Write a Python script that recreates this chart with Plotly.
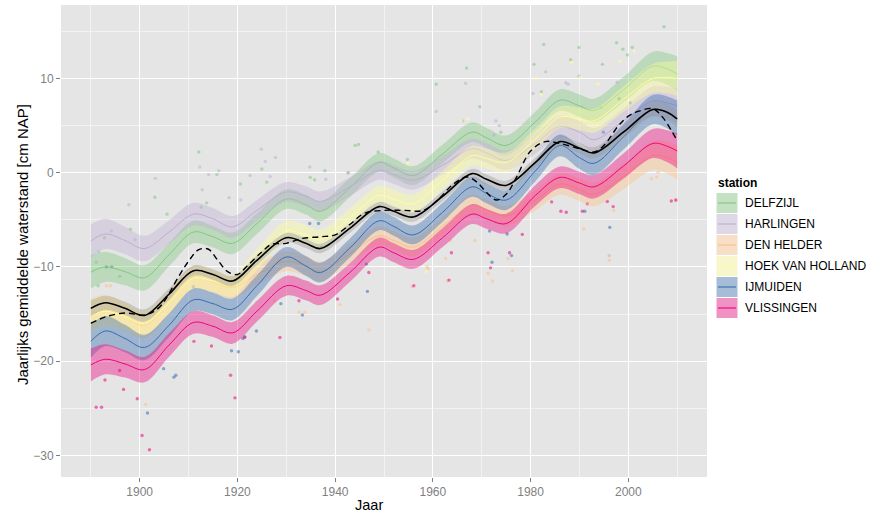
import plotly.graph_objects as go

# ---- smoothed yearly mean sea level per station (cm NAP) at key years ----
years = [1890, 1893, 1897, 1901, 1906, 1911, 1915, 1919, 1924, 1930, 1934, 1937, 1943, 1949,
         1952, 1956, 1962, 1968, 1971, 1975, 1981, 1986, 1990, 1993, 1999, 2005, 2008, 2010]

delfzijl = [-10.55, -10.0, -10.5, -11.15, -8.7, -6.3, -6.8, -7.5, -5.4, -2.8, -3.4, -4.1, -1.6, 1.1,
            0.5, -0.3, 2.0, 4.3, 3.7, 2.9, 5.4, 7.7, 7.1, 6.6, 8.8, 11.3, 11.0, 10.5]
harlingen = [-7.25, -6.5, -7.2, -8.05, -6.3, -4.4, -4.9, -5.75, -4.0, -2.05, -2.5, -3.05, -1.5, 0.25,
             -0.2, -0.8, 0.8, 2.55, 2.1, 1.3, 3.1, 4.9, 4.3, 3.5, 5.5, 7.6, 7.4, 7.1]
den_helder = [-15.1, -14.6, -15.3, -16.2, -13.8, -11.1, -11.6, -12.2, -10.8, -9.4, -9.9, -10.5, -8.6, -6.7,
              -7.2, -7.9, -5.7, -3.4, -3.9, -4.6, -2.9, -1.2, -1.8, -2.3, -0.4, 1.8, 1.6, 1.1]
hoek_van_holland = [-15.2, -14.7, -15.3, -16.0, -13.8, -11.2, -11.5, -12.0, -9.2, -6.2, -6.6, -7.1, -4.8, -2.4,
                    -2.8, -3.3, -0.8, 1.8, 1.5, 1.1, 3.6, 5.9, 5.7, 5.5, 7.8, 10.0, 10.1, 10.0]
ijmuiden = [-17.9, -16.8, -17.6, -18.55, -16.2, -13.5, -13.9, -14.5, -12.0, -8.95, -9.9, -10.6, -8.0, -5.1,
            -5.7, -6.6, -4.2, -1.5, -2.2, -2.9, 0.2, 2.9, 1.6, 1.0, 3.8, 6.7, 6.4, 5.8]
vlissingen = [-20.4, -19.8, -20.3, -20.9, -18.3, -15.9, -16.3, -17.0, -14.7, -12.0, -12.5, -13.0, -10.6, -7.9,
              -8.5, -9.2, -6.9, -4.4, -4.9, -5.4, -2.4, -0.5, -1.1, -1.5, 0.7, 3.1, 2.8, 2.3]

# half width of the confidence ribbons
station_ci = [1.75, 1.6, 1.45, 1.35, 1.25, 1.2, 1.15, 1.15, 1.1, 1.05, 1.05, 1.05, 1.0, 1.0,
              1.0, 1.0, 1.0, 1.05, 1.05, 1.05, 1.1, 1.15, 1.2, 1.25, 1.35, 1.55, 1.7, 1.85]

# mean over all stations
mean_all = [-14.4, -13.8, -14.4, -15.15, -12.9, -10.4, -10.8, -11.5, -9.3, -6.9, -7.5, -8.05, -5.9, -3.6,
            -4.1, -4.7, -2.5, -0.1, -0.7, -1.35, 1.1, 3.3, 2.6, 2.1, 4.3, 6.7, 6.4, 5.7]
mean_ci = [0.85, 0.75, 0.7, 0.65, 0.6, 0.55, 0.55, 0.55, 0.5, 0.5, 0.5, 0.5, 0.5, 0.5,
           0.5, 0.5, 0.5, 0.5, 0.5, 0.5, 0.5, 0.55, 0.55, 0.6, 0.65, 0.75, 0.85, 0.9]

# local smoother of the station mean (dashed)
dash_years = [1890, 1893, 1897, 1901, 1904, 1908, 1910, 1912, 1914, 1916, 1918, 1920, 1922, 1925,
              1927, 1930, 1933, 1937, 1940, 1943, 1946, 1950, 1954, 1958, 1961, 1964, 1967, 1969,
              1971, 1973, 1975, 1977, 1980, 1983, 1986, 1990, 1993, 1995, 1998, 2000, 2002, 2005,
              2007, 2009, 2010]
dash_vals = [-16.0, -15.3, -14.9, -15.1, -14.3, -11.0, -9.4, -8.2, -8.1, -9.3, -10.5, -10.8, -9.9, -8.4,
             -7.6, -7.5, -7.0, -6.8, -6.6, -5.5, -4.3, -4.0, -4.0, -4.0, -2.9, -1.3, -0.45, -1.0,
             -2.1, -2.9, -2.3, -0.6, 2.3, 3.3, 3.1, 2.55, 2.2, 2.9, 5.0, 6.0, 6.5, 6.8,
             5.9, 4.3, 3.4]

# yearly observations (year, value) per station
delfzijl_obs_x = [1912.1, 1915.8, 1903.1, 1898.1, 1892.8, 1920.6, 1925.0, 1926.0, 1934.9, 1935.8, 1937.9,
                  1942.7, 1944.1, 1944.8, 1948.8, 1954.8, 1960.7, 1966.9, 1969.6, 1973.9, 1980.7, 1982.2,
                  1982.7, 1988.2, 1989.9, 1994.7, 1994.4, 1997.6, 1998.9, 1999.8, 2000.8, 2007.3,
                  1912.6, 1913.7, 1905.6, 1891.5, 1895.9]
delfzijl_obs_y = [2.2, -0.2, -2.6, -6.0, -6.9, -1.2, 0.4, -1.0, -0.5, -0.75, 0.2,
                  0.0, 2.9, 3.0, 2.2, 1.4, 9.4, 11.1, 7.0, 4.3, 11.5, 8.6,
                  13.6, 12.0, 13.3, 11.5, 6.9, 13.8, 13.1, 12.5, 13.3, 15.5,
                  -3.65, -3.2, -4.4, -12.0, -11.0]
harlingen_obs_x = [1912.3, 1914.1, 1916.2, 1924.9, 1925.7, 1927.8, 1922.6, 1918.3, 1920.7, 1912.8, 1903.2,
                   1897.8, 1899.0, 1894.2, 1891.6, 1891.1, 1926.7, 1934.8, 1938.1, 1942.6, 1960.7, 1966.7,
                   1972.9, 1973.6, 1972.5, 1966.1, 1980.5, 1983.1, 1987.2, 1987.7, 1989.9, 1997.7, 1996.1]
harlingen_obs_y = [0.6, -0.2, 0.2, 2.5, 1.2, 1.6, -0.3, -2.65, -2.9, -1.8, -0.6,
                   -3.4, -7.1, -6.2, -8.4, -9.5, -0.4, 0.6, -0.7, 0.0, 6.5, 9.5,
                   5.5, 5.0, 4.0, 5.5, 8.4, 10.7, 9.55, 9.4, 10.25, 9.6, -8.8]
den_helder_obs_x = [1901.2, 1893.2, 1894.0, 1927.6, 1933.8, 1932.6, 1941.0, 1946.9, 1955.7, 1958.8, 1959.0,
                    1963.0, 1963.6, 1962.6, 1968.6, 1971.3, 1972.2, 1975.4, 1976.3, 1990.9, 1997.0, 2004.7,
                    2005.8, 2006.1, 2009.8, 1996.1]
den_helder_obs_y = [-24.6, -12.0, -12.0, -13.6, -14.8, -14.8, -14.0, -16.7, -12.1, -10.0, -10.2,
                    -11.5, -7.2, -9.1, -7.2, -10.7, -11.5, -9.1, -10.4, -5.95, -4.0, -0.64,
                    -0.47, 0.06, -2.95, -9.3]
hoek_obs_x = [1958.7, 1954.9, 1967.2, 1965.8, 1981.2, 1982.2, 1988.4, 1990.2, 1993.8, 1998.3, 2001.2, 2002.7]
hoek_obs_y = [-10.5, 1.0, 5.7, 5.5, 10.0, 8.3, 11.7, 10.1, 9.4, 11.85, 12.9, 9.45]
ijmuiden_obs_x = [1893.2, 1894.3, 1901.6, 1904.9, 1907.0, 1907.4, 1918.8, 1920.2, 1923.9, 1921.5, 1921.1,
                  1911.0, 1928.9, 1933.3, 1934.8, 1936.6, 1937.2, 1946.4, 1946.6, 1971.6, 1972.1, 1975.2,
                  1976.1, 1994.9, 1996.2, 1998.1, 2000.4, 1991.1]
ijmuiden_obs_y = [-10.0, -10.0, -25.5, -20.8, -21.7, -21.5, -18.9, -19.0, -16.8, -17.4, -17.6,
                  -12.1, -13.9, -15.1, -5.4, -5.4, -7.9, -9.7, -12.6, -6.2, -9.5, -6.5,
                  -8.8, 4.3, -5.8, 7.85, 7.4, -4.1]
vlissingen_obs_x = [1891.1, 1892.2, 1892.9, 1895.9, 1896.7, 1899.5, 1900.5, 1902.0, 1911.1, 1914.7, 1918.6,
                    1919.5, 1921.5, 1928.7, 1932.6, 1940.5, 1946.9, 1956.1, 1963.3, 1963.8, 1971.3, 1971.8,
                    1975.7, 1978.3, 1984.3, 1986.2, 1987.3, 1990.6, 1991.6, 1995.7, 1996.9, 2008.8, 2009.7]
vlissingen_obs_y = [-24.9, -24.9, -22.0, -21.0, -23.0, -24.0, -27.9, -29.4, -17.9, -18.4, -21.5,
                    -23.9, -17.5, -17.5, -13.6, -13.4, -10.6, -12.0, -11.4, -8.5, -8.5, -10.1,
                    -8.5, -6.55, -3.1, -4.1, -4.2, -4.1, -3.3, -3.05, -3.6, -3.0, -2.9]

x_ticks = [1900, 1920, 1940, 1960, 1980, 2000]
y_ticks = [-30, -20, -10, 0, 10]

stations = [
    ("DELFZIJL", delfzijl, delfzijl_obs_x, delfzijl_obs_y, (127, 201, 127)),
    ("HARLINGEN", harlingen, harlingen_obs_x, harlingen_obs_y, (190, 174, 212)),
    ("DEN HELDER", den_helder, den_helder_obs_x, den_helder_obs_y, (253, 192, 134)),
    ("HOEK VAN HOLLAND", hoek_van_holland, hoek_obs_x, hoek_obs_y, (255, 255, 153)),
    ("IJMUIDEN", ijmuiden, ijmuiden_obs_x, ijmuiden_obs_y, (56, 108, 176)),
    ("VLISSINGEN", vlissingen, vlissingen_obs_x, vlissingen_obs_y, (240, 2, 127)),
]


def rgb(c, a=None):
    if a is None:
        return "rgb(%d,%d,%d)" % c
    return "rgba(%d,%d,%d,%.2f)" % (c + (a,))


fig = go.Figure()

# observations underneath
for name, curve, ox, oy, col in stations:
    fig.add_trace(go.Scatter(x=ox, y=oy, mode="markers",
                             marker=dict(size=3.4, color=rgb(col), opacity=0.55, line=dict(width=0)),
                             showlegend=False, hoverinfo="skip"))

# ribbons and smooth lines per station
for name, curve, ox, oy, col in stations:
    lower = [v - h for v, h in zip(curve, station_ci)]
    upper = [v + h for v, h in zip(curve, station_ci)]
    fig.add_trace(go.Scatter(x=years, y=lower, mode="lines", line=dict(width=0, shape="spline"),
                             showlegend=False, hoverinfo="skip"))
    fig.add_trace(go.Scatter(x=years, y=upper, mode="lines", line=dict(width=0, shape="spline"),
                             fill="tonexty", fillcolor=rgb(col, 0.4), showlegend=False, hoverinfo="skip"))
    fig.add_trace(go.Scatter(x=years, y=curve, mode="lines", name=name,
                             line=dict(color=rgb(col), width=1.0, shape="spline"), showlegend=False))

# mean of all stations
lower = [v - h for v, h in zip(mean_all, mean_ci)]
upper = [v + h for v, h in zip(mean_all, mean_ci)]
fig.add_trace(go.Scatter(x=years, y=lower, mode="lines", line=dict(width=0, shape="spline"),
                         showlegend=False, hoverinfo="skip"))
fig.add_trace(go.Scatter(x=years, y=upper, mode="lines", line=dict(width=0, shape="spline"),
                         fill="tonexty", fillcolor="rgba(153,153,153,0.4)", showlegend=False, hoverinfo="skip"))
fig.add_trace(go.Scatter(x=years, y=mean_all, mode="lines", line=dict(color="black", width=1.6, shape="spline"),
                         showlegend=False))
fig.add_trace(go.Scatter(x=dash_years, y=dash_vals, mode="lines",
                         line=dict(color="black", width=1.4, dash="6px,4px", shape="spline"),
                         showlegend=False))

# ---- layout ----
W, H = 870, 513
L, R, T, B = 61, 707, 5, 477
FONT = "Liberation Sans, Arial, Helvetica, sans-serif"


def pxx(px):
    return (px - L) / (R - L)


def pxy(py):
    return (B - py) / (B - T)


axis_common = dict(showgrid=True, gridcolor="white", gridwidth=1.1, zeroline=False, showline=False,
                   ticks="outside", ticklen=4, tickwidth=1, tickcolor="#7F7F7F",
                   tickfont=dict(size=12, color="#7F7F7F", family=FONT))

fig.update_layout(
    width=W, height=H,
    margin=dict(l=L, r=W - R, t=T, b=H - B),
    paper_bgcolor="white", plot_bgcolor="#E5E5E5",
    font=dict(family=FONT, color="black"),
    showlegend=False,
    xaxis=dict(range=[1883.9, 2016.1], tickmode="array", tickvals=x_ticks,
               minor=dict(tickmode="array", tickvals=[1890, 1910, 1930, 1950, 1970, 1990, 2010],
                          showgrid=True, gridcolor="#F2F2F2", gridwidth=0.6, ticks=""),
               **axis_common),
    yaxis=dict(range=[-32.3, 17.8], tickmode="array", tickvals=y_ticks,
               minor=dict(tickmode="array", tickvals=[-25, -15, -5, 5, 15],
                          showgrid=True, gridcolor="#F2F2F2", gridwidth=0.6, ticks=""),
               **axis_common),
)

annotations = [
    dict(text="Jaar", x=pxx(369), y=pxy(505), xref="paper", yref="paper", showarrow=False,
         font=dict(size=14.5, color="black", family=FONT), xanchor="center", yanchor="middle"),
    dict(text="Jaarlijks gemiddelde waterstand [cm NAP]", x=pxx(22), y=pxy(245), xref="paper", yref="paper",
         showarrow=False, textangle=-90, font=dict(size=15, color="black", family=FONT),
         xanchor="center", yanchor="middle"),
    dict(text="<b>station</b>", x=pxx(716), y=pxy(183), xref="paper", yref="paper", showarrow=False,
         font=dict(size=12, color="black", family=FONT), xanchor="left", yanchor="middle"),
]

shapes = []
key_x0, key_x1 = 716, 738
for i, (name, curve, ox, oy, col) in enumerate(stations):
    cy = 203 + 21 * i
    y0, y1 = cy - 10.5, cy + 10.5
    shapes.append(dict(type="rect", xref="paper", yref="paper", x0=pxx(key_x0), x1=pxx(key_x1),
                       y0=pxy(y1), y1=pxy(y0), fillcolor="#F2F2F2", line=dict(width=0), layer="above"))
    shapes.append(dict(type="rect", xref="paper", yref="paper", x0=pxx(key_x0), x1=pxx(key_x1),
                       y0=pxy(y1), y1=pxy(y0), fillcolor=rgb(col, 0.4),
                       line=dict(color="white", width=1), layer="above"))
    shapes.append(dict(type="line", xref="paper", yref="paper", x0=pxx(key_x0 + 2), x1=pxx(key_x1 - 2),
                       y0=pxy(cy), y1=pxy(cy), line=dict(color=rgb(col), width=1.1), layer="above"))
    annotations.append(dict(text=name, x=pxx(743), y=pxy(cy), xref="paper", yref="paper", showarrow=False,
                            font=dict(size=12, color="black", family=FONT), xanchor="left", yanchor="middle"))

fig.update_layout(annotations=annotations, shapes=shapes)

fig.write_html("out.html")
